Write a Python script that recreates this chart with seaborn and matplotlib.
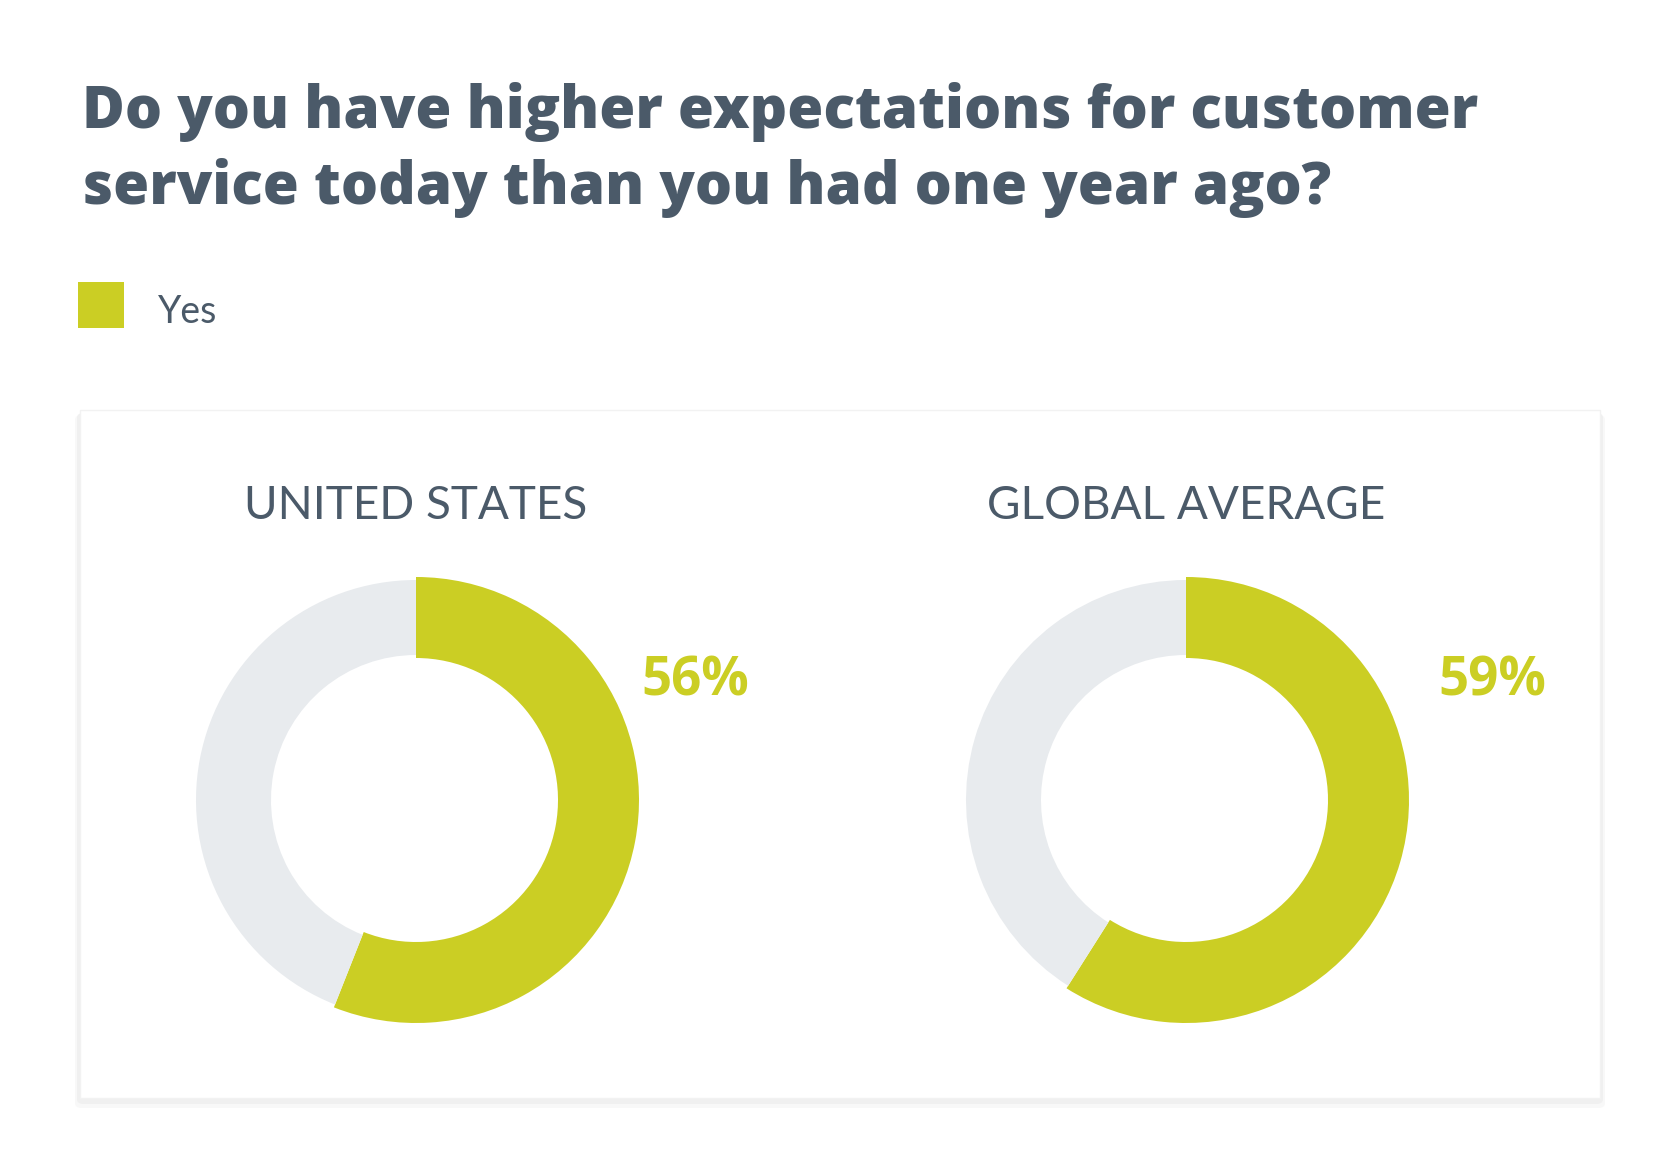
import numpy as np
import matplotlib.pyplot as plt
import seaborn as sns
from matplotlib.patches import FancyBboxPatch

# Datos
title_lines = ["Do you have higher expectations for customer",
               "service today than you had one year ago?"]
legend_label = "Yes"
regions = ["UNITED STATES", "GLOBAL AVERAGE"]
yes_pct = [56, 59]

sns.set_theme(style="white")
plt.rcParams['font.family'] = ['Lato', 'DejaVu Sans']

green = "#cbce24"
grey = "#e8ebee"
ink = "#4b5a69"

W, H = 1680, 1174
fig = plt.figure(figsize=(W / 100, H / 100), dpi=100)
fig.patch.set_facecolor("white")


def fx(px):
    return px / W


def fy(py):
    return 1 - py / H


# Titulo
for line, base in zip(title_lines, [128, 204]):
    fig.text(fx(82), fy(base), line, fontsize=42, fontweight='heavy', color=ink, va='baseline',
             family=['Open Sans', 'DejaVu Sans'])

# Leyenda
fig.add_artist(plt.Rectangle((fx(78), fy(328)), fx(46), 46 / H, transform=fig.transFigure,
                             facecolor=green, edgecolor='none'))
fig.text(fx(158), fy(312), legend_label, fontsize=27, color=ink, va='center')

# Tarjeta con sombra
for off, col in [(10, "#f8f8f8"), (6, "#f0f0f0")]:
    fig.add_artist(FancyBboxPatch((fx(80 - off / 2), fy(1098 + off)), fx(1520 + off), (688 + off / 2) / H,
                                  boxstyle="round,pad=0,rounding_size=0.004", transform=fig.transFigure,
                                  facecolor=col, edgecolor='none', zorder=-3))
fig.add_artist(plt.Rectangle((fx(80), fy(1098)), fx(1520), 688 / H, transform=fig.transFigure,
                             facecolor='white', edgecolor='#f2f2f2', linewidth=1, zorder=-2))

centers = [(416, 800), (1186, 800)]
label_x = [695, 1492]

for (cx, cy), name, pct, lx in zip(centers, regions, yes_pct, label_x):
    ax = fig.add_axes([fx(cx - 250), fy(cy + 250), fx(500), 500 / H])
    ax.set_zorder(2)
    ax.patch.set_alpha(0)
    vals = [pct, 100 - pct]
    ax.pie(vals, colors=[green, 'none'], startangle=90, counterclock=False,
           radius=223, wedgeprops=dict(width=81, linewidth=0))
    ax.pie(vals, colors=['none', grey], startangle=90, counterclock=False,
           radius=220, wedgeprops=dict(width=75, linewidth=0))
    ax.set_xlim(-250, 250)
    ax.set_ylim(-250, 250)
    ax.set_aspect('equal')
    ax.axis('off')

    fig.text(fx(cx), fy(519), name, fontsize=33, color=ink, ha='center', va='baseline')
    fig.text(fx(lx), fy(681), f"{pct}%", fontsize=38, fontweight='bold', color=green,
             ha='center', va='center', family=['Open Sans', 'DejaVu Sans'])

plt.savefig("out.png", dpi=100, facecolor='white')
